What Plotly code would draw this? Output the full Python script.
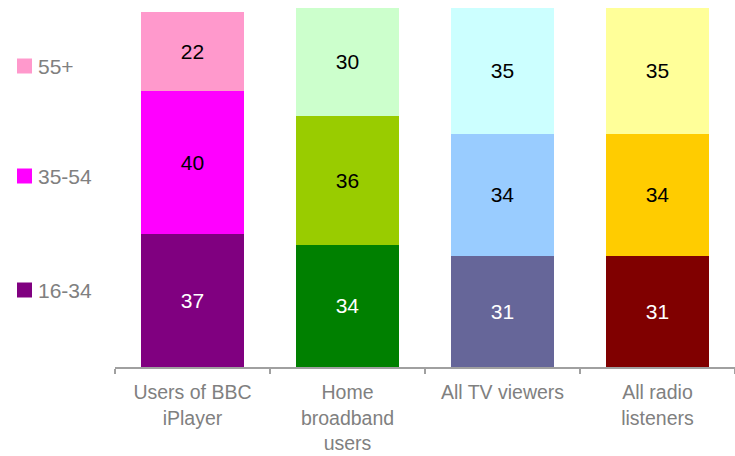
import plotly.graph_objects as go

# Audience age profile (%) by platform
categories = ["Users of BBC<br>iPlayer", "Home<br>broadband<br>users", "All TV viewers", "All radio<br>listeners"]
age_groups = ["16-34", "35-54", "55+"]

share_16_34 = [37, 34, 31, 31]
share_35_54 = [40, 36, 34, 34]
share_55_plus = [22, 30, 35, 35]

# Each platform has its own palette for the three age bands
colors_16_34 = ["#800080", "#008000", "#666699", "#800000"]
colors_35_54 = ["#FF00FF", "#99CC00", "#99CCFF", "#FFCC00"]
colors_55_plus = ["#FF99CC", "#CCFFCC", "#CCFFFF", "#FFFF99"]

series = [
    (age_groups[0], share_16_34, colors_16_34, "white"),
    (age_groups[1], share_35_54, colors_35_54, "black"),
    (age_groups[2], share_55_plus, colors_55_plus, "black"),
]

FONT = "Liberation Sans, Arial, sans-serif"
W, H = 735, 456
ML, MR, MT, MB = 115, 0, 8, 89

fig = go.Figure()
for name, vals, cols, tcol in series:
    fig.add_trace(go.Bar(
        x=categories, y=vals, name=name,
        marker=dict(color=cols, line=dict(width=0)),
        text=[str(v) for v in vals],
        textposition="inside", insidetextanchor="middle",
        textfont=dict(family=FONT, size=21, color=tcol),
        width=0.67, showlegend=False,
    ))

# Legend drawn as squares with labels at the left side
plot_w = W - ML - MR
plot_h = H - MT - MB
def px_x(p):
    return (p - ML) / plot_w
def px_y(p):
    return 1 - (p - MT) / plot_h

legend_rows = [("55+", colors_55_plus[0], 66), ("35-54", colors_35_54[0], 176), ("16-34", colors_16_34[0], 290)]
shapes = []
annotations = []
for label, col, cy in legend_rows:
    shapes.append(dict(type="rect", xref="paper", yref="paper",
                       x0=px_x(17), x1=px_x(32), y0=px_y(cy + 7.5), y1=px_y(cy - 7.5),
                       fillcolor=col, line=dict(width=0)))
    annotations.append(dict(xref="paper", yref="paper", x=px_x(36), y=px_y(cy),
                            xanchor="left", yanchor="middle", text=label, showarrow=False,
                            font=dict(family=FONT, size=21, color="#808080")))

fig.update_layout(
    barmode="stack",
    width=W, height=H,
    margin=dict(l=ML, r=MR, t=MT, b=MB),
    paper_bgcolor="white", plot_bgcolor="white",
    bargap=0.33,
    shapes=shapes, annotations=annotations,
    xaxis=dict(
        type="category", range=[-0.5, 3.5],
        showline=True, linecolor="#A0A0A0", linewidth=1.5,
        ticks="outside", tickson="boundaries", ticklen=5, tickcolor="#A0A0A0", tickwidth=1.5,
        tickfont=dict(family=FONT, size=19.5, color="#808080"),
        ticklabelstandoff=7,
        showgrid=False, zeroline=False,
    ),
    yaxis=dict(range=[0, 100], visible=False, showgrid=False, zeroline=False),
)

fig.write_html("out.html")
